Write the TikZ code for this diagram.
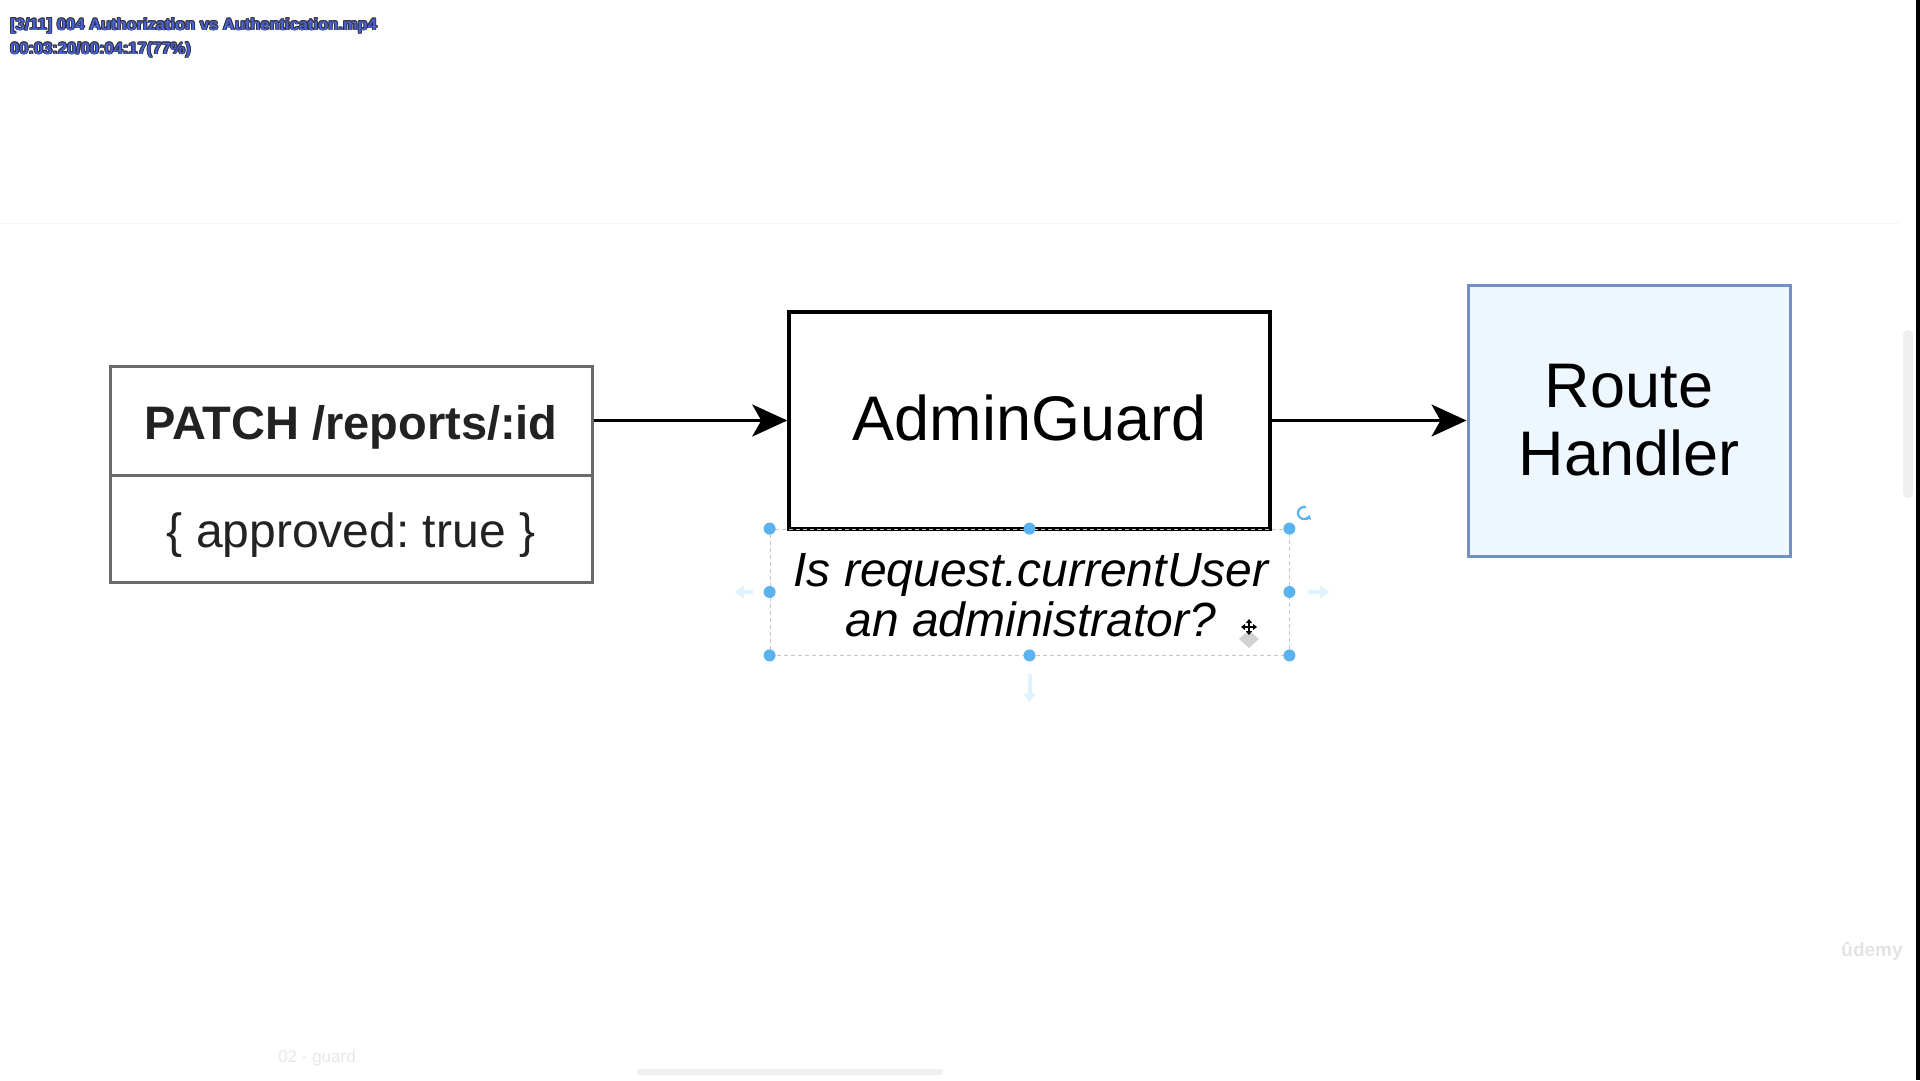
\documentclass[tikz,border=0pt]{standalone}
\usepackage{fontspec}
\setmainfont{Liberation Sans}
\usetikzlibrary{arrows.meta}
\frenchspacing

\definecolor{inkgray}{HTML}{222222}
\definecolor{reqedge}{HTML}{6A6A6A}
\definecolor{frameblue}{HTML}{7390C4}
\definecolor{fillblue}{HTML}{EEF6FF}
\definecolor{handle}{HTML}{5AB2EE}
\definecolor{ghost}{HTML}{DDF3FF}
\definecolor{hudblue}{HTML}{4A62D8}
\definecolor{hudedge}{HTML}{30303A}
\definecolor{faint}{HTML}{EFEFEF}

\tikzset{
  reqbox/.style={draw=reqedge, line width=3pt, inner sep=0pt, text=inkgray,
    minimum width=482pt},
  guardbox/.style={draw=black, line width=3.5pt, inner sep=0pt,
    minimum width=481pt, minimum height=217pt,
    font=\fontsize{63}{68}\selectfont},
  handlerbox/.style={draw=frameblue, fill=fillblue, line width=3pt, inner sep=0pt,
    minimum width=322pt, minimum height=271pt, align=center,
    font=\fontsize{63}{68}\selectfont},
  flow/.style={line width=3pt, -{Stealth[length=35pt,width=32pt,inset=9pt]}},
  hud/.style={anchor=base west, inner sep=0pt,
    font=\fontsize{16.5}{18}\selectfont\bfseries},
  selframe/.style={draw=gray!45, dashed, dash pattern=on 4pt off 3pt,
    line width=0.8pt, inner sep=0pt, minimum width=519pt, minimum height=126pt},
  ghostarrow/.style={draw=ghost, line width=4pt, -{Triangle[length=9pt,width=12pt]}},
}

% outlined overlay caption: dark copies around, blue on top
\newcommand{\hudline}[3]{%
  \foreach \dx/\dy in {-0.8/-0.8,-0.8/0,-0.8/0.8,0/-0.8,0/0.8,0.8/-0.8,0.8/0,0.8/0.8}
    \node[hud, text=hudedge, xshift=\dx pt, yshift=\dy pt] at (#2) {#3};
  \node[hud, text=hudblue] (#1) at (#2) {#3};
}

\begin{document}
\begin{tikzpicture}[x=1pt, y=-1pt]
\useasboundingbox (0,0) rectangle (1920,1080);
\fill[white] (0,0) rectangle (1920,1080);

% faint background details
\draw[gray!7, line width=1pt] (0,223) -- (1900,223);
\fill[faint, rounded corners=5pt] (1903,330) rectangle (1913,498);
\fill[faint, rounded corners=3pt] (637,1069) rectangle (943,1075);
\fill[black] (1916,0) rectangle (1920,1080);
\node[text=gray!22, font=\fontsize{19}{20}\selectfont\bfseries] (logo) at (1872,951) {ûdemy};
\node[text=gray!18, font=\fontsize{17}{18}\selectfont] (tab) at (317,1058) {02 - guard};

% overlay caption
\hudline{cap1}{10,30}{[3/11] 004 Authorization vs Authentication.mp4}
\hudline{cap2}{10,54}{00:03:20/00:04:17(77\%)}

% request box: two stacked cells
\node[reqbox, minimum height=109pt] (reqhead) at (351,420.5) {};
\node[reqbox, minimum height=107pt] (reqbody) at (351,528.5) {};
\node[text=inkgray, font=\fontsize{47}{50}\selectfont\bfseries, inner sep=0pt]
  (reqheadtext) at (351,427) {PATCH /reports/:id};
\node[text=inkgray, font=\fontsize{48}{50}\selectfont, inner sep=0pt]
  (reqbodytext) at (351,535) {\{ approved: true \}};

% guard and handler
\node[guardbox] (guard) at (1029.5,420.5) {};
\node[font=\fontsize{63}{68}\selectfont, inner sep=0pt] (guardtext) at (1029.5,418) {AdminGuard};
\node[handlerbox] (handler) at (1629,420.5) {Route\\Handler};

\draw[flow] (reqhead.east) -- (guard.west);
\draw[flow] (guard.east) -- (handler.west);

% selected caption under the guard
\node[selframe] (sel) at (1029.5,592) {};
\node[font=\fontsize{48}{50}\selectfont\itshape, align=center, inner sep=0pt]
  (question) at (1031,595.5) {Is request.currentUser\\an administrator?};

\coordinate (gl) at ([xshift=-35pt]sel.west);
\coordinate (gr) at ([xshift=40pt]sel.east);
\coordinate (gb) at ([yshift=-47pt]sel.south);
\coordinate (glo) at ([xshift=-17pt]sel.west);
\coordinate (gro) at ([xshift=19pt]sel.east);
\coordinate (gbo) at ([yshift=-19pt]sel.south);
\draw[ghostarrow] (glo) -- (gl);
\draw[ghostarrow] (gro) -- (gr);
\draw[ghostarrow] (gbo) -- (gb);

\foreach \a in {north west, north, north east, east, south east, south, south west, west}
  \fill[handle] (sel.\a) circle (6pt);

% rotate handle
\coordinate (rot) at (1304,513);
\draw[handle, line width=2.2pt, -{Triangle[length=4pt,width=6pt]}]
  ([shift={(70:6pt)}]rot) arc[start angle=70, end angle=340, radius=6pt];

% move cursor
\coordinate (mv) at (1249,627);
\fill[gray!35] ([yshift=-3pt]mv) -- ([shift={(10pt,-12pt)}]mv) -- ([yshift=-21pt]mv)
  -- ([shift={(-10pt,-12pt)}]mv) -- cycle;
\draw[line width=1.6pt, {Triangle[length=4pt,width=6pt]}-{Triangle[length=4pt,width=6pt]}]
  ([xshift=-8pt]mv) -- ([xshift=8pt]mv);
\draw[line width=1.6pt, {Triangle[length=4pt,width=6pt]}-{Triangle[length=4pt,width=6pt]}]
  ([yshift=-8pt]mv) -- ([yshift=8pt]mv);
\end{tikzpicture}
\end{document}
